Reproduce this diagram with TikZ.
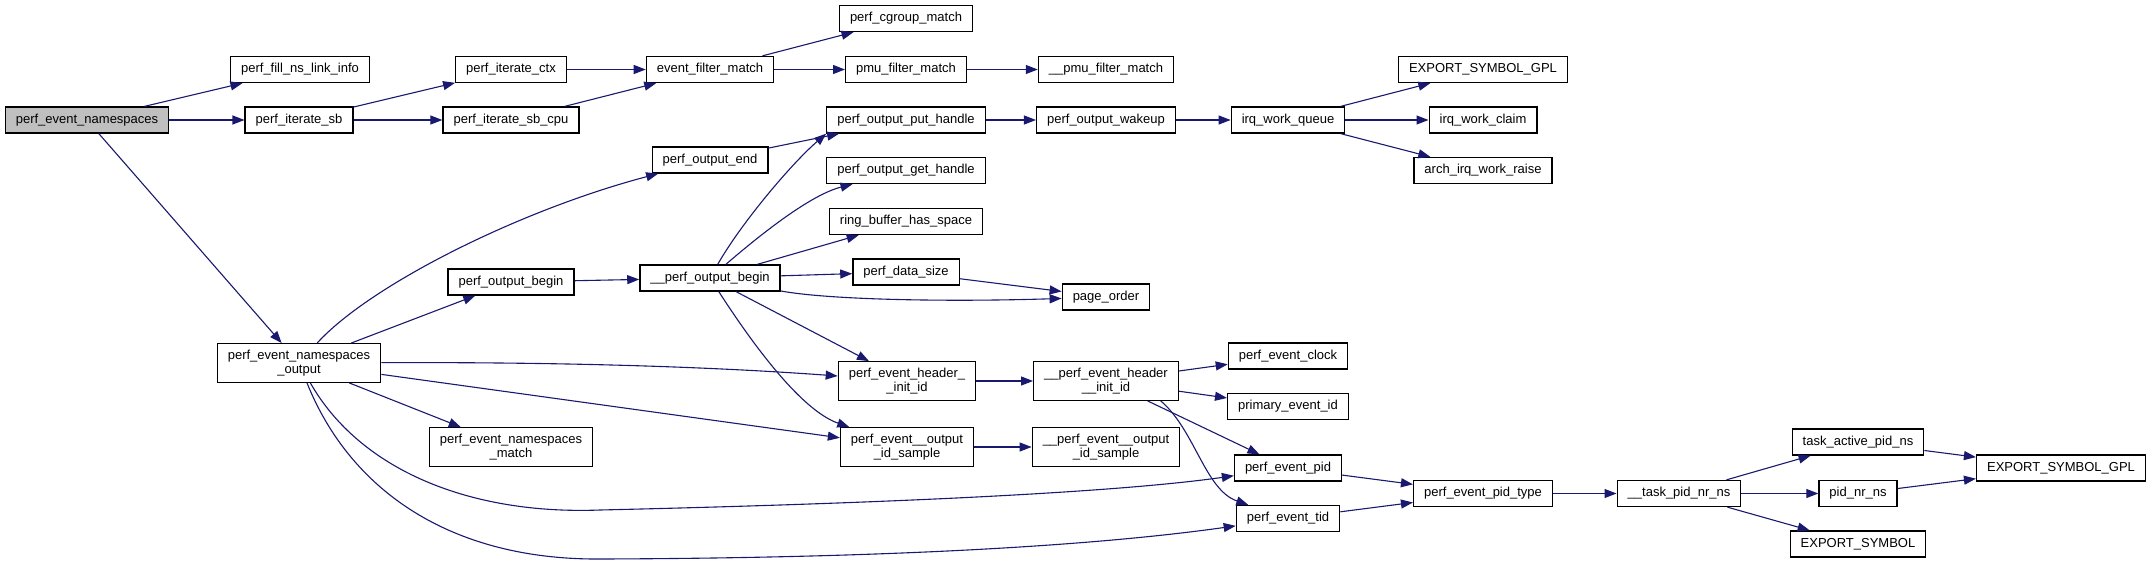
\documentclass[tikz,border=0pt]{standalone}
\usepackage{fontspec}
\setmainfont{Liberation Sans}
\usetikzlibrary{arrows.meta}
\definecolor{edgeblue}{RGB}{25,25,112}
\definecolor{rootgray}{RGB}{191,191,191}
\begin{document}
\begin{tikzpicture}[
    x=1pt, y=-1pt,
    box/.style={rectangle, draw=black, line width=1.3pt, fill=white, minimum height=26, inner xsep=10.5, inner ysep=6, align=center, font=\fontsize{13}{14.5}\selectfont},
    edge/.style={-{Triangle[length=12pt, width=9pt]}, draw=edgeblue, line width=1.1pt}
]
    \fill[white] (0,0) rectangle (2153,565);
    \useasboundingbox (0,0) rectangle (2153,565);

    % Caller
    \node[box, fill=rootgray] (root) at (87, 120) {perf\_event\_namespaces};

    % Second column
    \node[box] (fill) at (300, 69.5) {perf\_fill\_ns\_link\_info};
    \node[box] (itersb) at (299, 120) {perf\_iterate\_sb};
    \node[box] (nsout) at (299, 363) {perf\_event\_namespaces\\\_output};

    % Third column
    \node[box] (iterctx) at (511, 69.5) {perf\_iterate\_ctx};
    \node[box] (itercpu) at (511, 120) {perf\_iterate\_sb\_cpu};
    \node[box] (outbegin) at (511, 282) {perf\_output\_begin};
    \node[box] (nsmatch) at (511, 447) {perf\_event\_namespaces\\\_match};

    % Fourth column
    \node[box] (filter) at (710, 69.5) {event\_filter\_match};
    \node[box] (outend) at (710, 160) {perf\_output\_end};
    \node[box] (rawbegin) at (710, 278) {\_\_perf\_output\_begin};

    % Fifth column
    \node[box] (cgroup) at (906, 18.5) {perf\_cgroup\_match};
    \node[box] (pmu) at (906, 69.5) {pmu\_filter\_match};
    \node[box] (puthandle) at (906, 120) {perf\_output\_put\_handle};
    \node[box] (gethandle) at (906, 170.5) {perf\_output\_get\_handle};
    \node[box] (ringbuf) at (906, 221.5) {ring\_buffer\_has\_space};
    \node[box] (datasize) at (906, 272) {perf\_data\_size};
    \node[box] (hdrinit) at (907, 381) {perf\_event\_header\_\\\_init\_id};
    \node[box] (idsample) at (907, 447) {perf\_event\_\_output\\\_id\_sample};

    % Sixth column
    \node[box] (rawpmu) at (1106, 69.5) {\_\_pmu\_filter\_match};
    \node[box] (wakeup) at (1106, 120) {perf\_output\_wakeup};
    \node[box] (pageorder) at (1106, 297) {page\_order};
    \node[box] (rawhdrinit) at (1106, 381) {\_\_perf\_event\_header\\\_\_init\_id};
    \node[box] (rawidsample) at (1106, 447) {\_\_perf\_event\_\_output\\\_id\_sample};

    % Seventh column
    \node[box] (irqqueue) at (1288, 120) {irq\_work\_queue};
    \node[box] (clock) at (1288, 356) {perf\_event\_clock};
    \node[box] (primary) at (1288, 406.5) {primary\_event\_id};
    \node[box] (evpid) at (1288, 468) {perf\_event\_pid};
    \node[box] (evtid) at (1288, 518.5) {perf\_event\_tid};

    % Eighth column
    \node[box] (gplirq) at (1483, 69.5) {EXPORT\_SYMBOL\_GPL};
    \node[box] (claim) at (1483, 120) {irq\_work\_claim};
    \node[box] (raise) at (1483, 170.5) {arch\_irq\_work\_raise};
    \node[box] (pidtype) at (1483, 493.5) {perf\_event\_pid\_type};

    % Last columns
    \node[box] (tasknr) at (1679, 493.5) {\_\_task\_pid\_nr\_ns};
    \node[box] (activens) at (1858, 442) {task\_active\_pid\_ns};
    \node[box] (pidnr) at (1858, 493.5) {pid\_nr\_ns};
    \node[box] (symbol) at (1858, 544) {EXPORT\_SYMBOL};
    \node[box] (gplpid) at (2061, 468) {EXPORT\_SYMBOL\_GPL};

    % Calls from the caller
    \draw[edge] (root) -- (fill);
    \draw[edge] (root) -- (itersb);
    \draw[edge] (root) -- (nsout);

    % Iterating over events
    \draw[edge] (itersb) -- (iterctx);
    \draw[edge] (itersb) -- (itercpu);
    \draw[edge] (iterctx) -- (filter);
    \draw[edge] (itercpu) -- (filter);
    \draw[edge] (filter) -- (cgroup);
    \draw[edge] (filter) -- (pmu);
    \draw[edge] (pmu) -- (rawpmu);

    % Output path
    \draw[edge] (nsout) .. controls (370,285) and (520,210) .. (outend);
    \draw[edge] (nsout) -- (outbegin);
    \draw[edge] (nsout) .. controls (550,362) and (700,366) .. (hdrinit);
    \draw[edge] (nsout) -- (idsample);
    \draw[edge] (nsout) -- (nsmatch);
    \draw[edge] (nsout) .. controls (360,470) and (470,515) .. (600,510)
        .. controls (900,503) and (1120,492) .. (evpid);
    \draw[edge] (nsout) .. controls (350,490) and (450,560) .. (600,559)
        .. controls (900,558) and (1100,545) .. (evtid);
    \draw[edge] (outend) -- (puthandle);
    \draw[edge] (outbegin) -- (rawbegin);
    \draw[edge] (rawbegin) .. controls (740,225) and (790,165) .. (puthandle.south west);
    \draw[edge] (rawbegin) .. controls (760,235) and (810,195) .. (gethandle);
    \draw[edge] (rawbegin) -- (ringbuf);
    \draw[edge] (rawbegin) -- (datasize);
    \draw[edge] (rawbegin) .. controls (830,300) and (950,302) .. (pageorder);
    \draw[edge] (rawbegin) -- (hdrinit);
    \draw[edge] (rawbegin) .. controls (750,340) and (800,410) .. (idsample);
    \draw[edge] (datasize) -- (pageorder);

    % Wakeup
    \draw[edge] (puthandle) -- (wakeup);
    \draw[edge] (wakeup) -- (irqqueue);
    \draw[edge] (irqqueue) -- (gplirq);
    \draw[edge] (irqqueue) -- (claim);
    \draw[edge] (irqqueue) -- (raise);

    % Header and sample ids
    \draw[edge] (hdrinit) -- (rawhdrinit);
    \draw[edge] (idsample) -- (rawidsample);
    \draw[edge] (rawhdrinit) -- (clock);
    \draw[edge] (rawhdrinit) -- (primary);
    \draw[edge] (rawhdrinit) -- (evpid);
    \draw[edge] (rawhdrinit.-20) .. controls (1195,430) and (1205,490) .. (evtid);

    % Pid lookup
    \draw[edge] (evpid) -- (pidtype);
    \draw[edge] (evtid) -- (pidtype);
    \draw[edge] (pidtype) -- (tasknr);
    \draw[edge] (tasknr) -- (activens);
    \draw[edge] (tasknr) -- (pidnr);
    \draw[edge] (tasknr) -- (symbol);
    \draw[edge] (activens) -- (gplpid);
    \draw[edge] (pidnr) -- (gplpid);
\end{tikzpicture}
\end{document}
